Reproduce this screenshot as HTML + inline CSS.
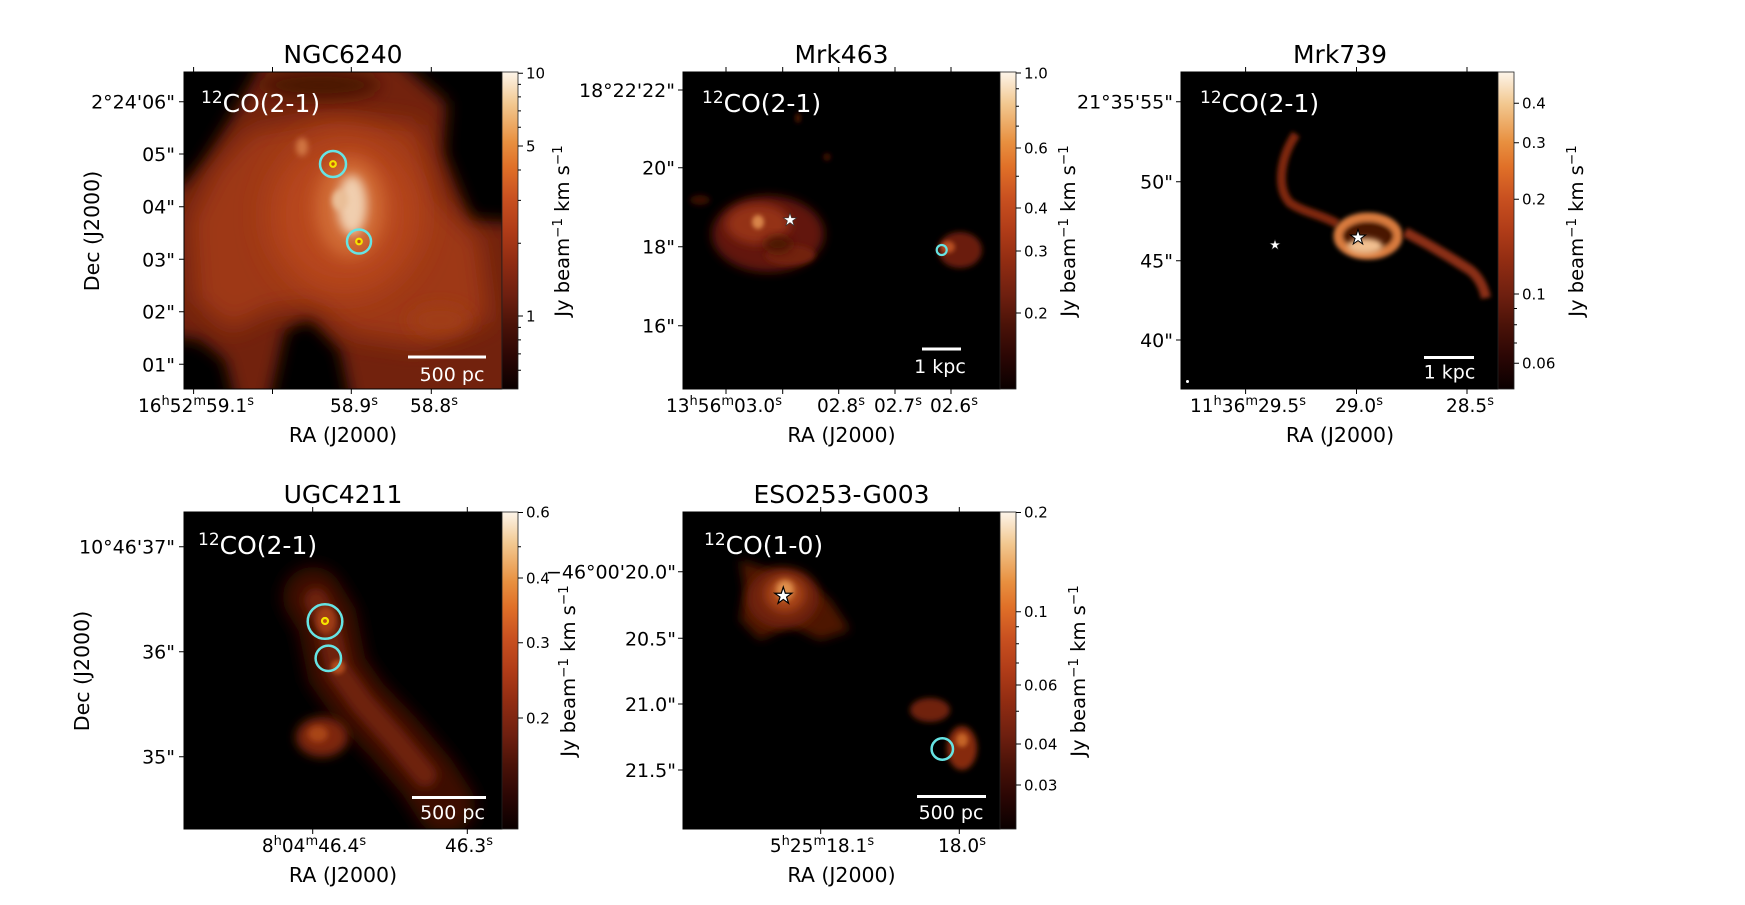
<!DOCTYPE html>
<html><head><meta charset="utf-8"><style>
html,body{margin:0;padding:0;background:#fff;}
svg{display:block;}
text{font-family:"DejaVu Sans","Liberation Sans",sans-serif;}
</style></head><body>
<svg width="1745" height="905" viewBox="0 0 1745 905" xmlns="http://www.w3.org/2000/svg">
<defs>
<linearGradient id="cmap" x1="0" y1="0" x2="0" y2="1">
<stop offset="0" stop-color="#fdf5ea"/><stop offset="0.1" stop-color="#f2c890"/><stop offset="0.22" stop-color="#e89040"/><stop offset="0.3" stop-color="#e07028"/><stop offset="0.4" stop-color="#c85020"/><stop offset="0.5" stop-color="#b03c18"/><stop offset="0.6" stop-color="#902c12"/><stop offset="0.7" stop-color="#702010"/><stop offset="0.8" stop-color="#4a1208"/><stop offset="0.9" stop-color="#2a0604"/><stop offset="1" stop-color="#0a0000"/>
</linearGradient>
<filter id="b2" x="-50%" y="-50%" width="200%" height="200%"><feGaussianBlur stdDeviation="2"/></filter>
<filter id="b3" x="-50%" y="-50%" width="200%" height="200%"><feGaussianBlur stdDeviation="3"/></filter>
<filter id="b5" x="-50%" y="-50%" width="200%" height="200%"><feGaussianBlur stdDeviation="5"/></filter>
<filter id="b8" x="-50%" y="-50%" width="200%" height="200%"><feGaussianBlur stdDeviation="8"/></filter>
<filter id="b12" x="-50%" y="-50%" width="200%" height="200%"><feGaussianBlur stdDeviation="12"/></filter>
<filter id="b16" x="-50%" y="-50%" width="200%" height="200%"><feGaussianBlur stdDeviation="16"/></filter>
<clipPath id="c1"><rect x="184" y="72" width="318" height="317"/></clipPath>
<clipPath id="c2"><rect x="683" y="72" width="317" height="317"/></clipPath>
<clipPath id="c3"><rect x="1181" y="72" width="317" height="317"/></clipPath>
<clipPath id="c4"><rect x="184" y="512" width="318" height="317"/></clipPath>
<clipPath id="c5"><rect x="683" y="512" width="317" height="317"/></clipPath>
</defs>

<!-- ================= PANEL 1 NGC6240 ================= -->
<g clip-path="url(#c1)">
<rect x="184" y="72" width="318" height="317" fill="#000"/>
<path d="M262,45L380,45L420,80L447,103L443,153L457,187L470,220L540,224L540,420L355,420L340,350L310,318L285,330L265,420L240,420L225,360L200,340L160,335L160,190L184,185L205,160L230,120L258,72Z" fill="#72200c" filter="url(#b8)"/>
<path d="M250,130L330,115L420,125L440,200L480,240L490,320L420,345L350,335L315,305L270,310L230,330L195,300L190,220L215,170Z" fill="#9e3814" filter="url(#b12)"/>
<ellipse cx="345" cy="215" rx="75" ry="80" fill="#b8461a" filter="url(#b16)"/>
<ellipse cx="350" cy="208" rx="35" ry="50" fill="#d06a34" filter="url(#b8)"/>
<ellipse cx="352" cy="205" rx="15" ry="30" fill="#f0ceae" filter="url(#b5)"/>
<ellipse cx="340" cy="200" rx="8" ry="10" fill="#eabf98" filter="url(#b3)"/>
<ellipse cx="302" cy="147" rx="6" ry="9" fill="#d07442" filter="url(#b3)"/>
<ellipse cx="440" cy="320" rx="30" ry="15" fill="#a03c16" filter="url(#b8)"/>
<ellipse cx="320" cy="85" rx="60" ry="14" fill="#4a1206" filter="url(#b8)"/>
</g>
<rect x="184" y="72" width="318" height="317" fill="none" stroke="#000" stroke-width="1"/>
<circle cx="333" cy="164" r="13" fill="none" stroke="#66e4e4" stroke-width="2.5"/>
<circle cx="333" cy="164" r="2.8" fill="#c05010" stroke="#f5e400" stroke-width="2.2"/>
<circle cx="359" cy="241.5" r="12" fill="none" stroke="#66e4e4" stroke-width="2.5"/>
<circle cx="359" cy="241.5" r="2.8" fill="#c05010" stroke="#f5e400" stroke-width="2.2"/>
<rect x="408" y="355.5" width="78" height="3" fill="#fff"/>
<text x="452" y="381" font-size="19" fill="#fff" text-anchor="middle">500 pc</text>
<text x="201" y="112" font-size="25" fill="#fff"><tspan font-size="17" dy="-9">12</tspan><tspan dy="9">CO(2-1)</tspan></text>
<text x="343" y="63" font-size="25" text-anchor="middle">NGC6240</text>
<path d="M193.6,72v-5M272.5,72v-5M351.3,72v-5M431.3,72v-5M193.6,389v5M272.5,389v5M351.3,389v5M431.3,389v5M184,101.7h-5M184,154h-5M184,206.7h-5M184,259.3h-5M184,311.7h-5M184,364.3h-5" stroke="#000" stroke-width="1"/>
<g font-size="19" text-anchor="end">
<text x="175" y="108.7">2°24'06"</text><text x="175" y="161">05"</text><text x="175" y="213.7">04"</text><text x="175" y="266.3">03"</text><text x="175" y="318.7">02"</text><text x="175" y="371.3">01"</text>
</g>
<g font-size="18.5" text-anchor="middle">
<text x="196" y="412">16<tspan font-size="13" dy="-7">h</tspan><tspan dy="7">52</tspan><tspan font-size="13" dy="-7">m</tspan><tspan dy="7">59.1</tspan><tspan font-size="13" dy="-7">s</tspan></text>
<text x="354" y="412">58.9<tspan font-size="13" dy="-7">s</tspan></text>
<text x="434" y="412">58.8<tspan font-size="13" dy="-7">s</tspan></text>
</g>
<text x="343" y="442" font-size="20.5" text-anchor="middle">RA (J2000)</text>
<text transform="translate(99,231) rotate(-90)" font-size="20.5" text-anchor="middle">Dec (J2000)</text>
<rect x="502" y="72" width="16" height="317" fill="url(#cmap)" stroke="#222" stroke-width="0.8"/>
<path d="M518,73.3h5M518,146h5M518,316h5M518,84.4h3M518,96.9h3M518,110.9h3M518,127.2h3M518,170h3M518,200.4h3M518,243.2h3M518,327.4h3M518,339.9h3M518,353.9h3M518,370.2h3" stroke="#000" stroke-width="1"/>
<g font-size="15"><text x="526" y="78.5">10</text><text x="526" y="151.3">5</text><text x="526" y="321.3">1</text></g>
<text transform="translate(569,231) rotate(-90)" font-size="19.5" text-anchor="middle">Jy beam<tspan font-size="13.5" dy="-7">−1</tspan><tspan dy="7"> km s</tspan><tspan font-size="13.5" dy="-7">−1</tspan></text>

<!-- ================= PANEL 2 Mrk463 ================= -->
<g clip-path="url(#c2)">
<rect x="683" y="72" width="317" height="317" fill="#000"/>
<ellipse cx="768" cy="234" rx="56" ry="38" fill="#62180a" filter="url(#b5)"/>
<ellipse cx="758" cy="224" rx="32" ry="20" fill="#943214" filter="url(#b5)"/>
<ellipse cx="790" cy="255" rx="25" ry="10" fill="#72220c" filter="url(#b3)"/>
<ellipse cx="778" cy="244" rx="14" ry="8" fill="#4a1206" filter="url(#b5)"/>
<ellipse cx="758" cy="222" rx="6" ry="7" fill="#d8844a" filter="url(#b2)"/>
<ellipse cx="700" cy="200" rx="10" ry="5" fill="#3a0c04" filter="url(#b3)"/>
<ellipse cx="960" cy="250" rx="22" ry="18" fill="#6a1e0c" filter="url(#b3)"/>
<ellipse cx="948" cy="247" rx="7" ry="6" fill="#b85020" filter="url(#b2)"/>
<ellipse cx="798" cy="118" rx="3" ry="5" fill="#4a1206" filter="url(#b2)"/>
<ellipse cx="827" cy="157" rx="4" ry="4" fill="#3a0c04" filter="url(#b2)"/>
</g>
<rect x="683" y="72" width="317" height="317" fill="none" stroke="#000" stroke-width="1"/>
<polygon points="790,213 791.57,217.84 796.66,217.84 792.54,220.83 794.12,225.66 790,222.67 785.88,225.66 787.46,220.83 783.34,217.84 788.43,217.84" fill="#fff" stroke="#333" stroke-width="0.6"/>
<circle cx="941.7" cy="250" r="5" fill="none" stroke="#66e4e4" stroke-width="2.2"/>
<rect x="922" y="347.5" width="39" height="3" fill="#fff"/>
<text x="940" y="373" font-size="19" fill="#fff" text-anchor="middle">1 kpc</text>
<text x="702" y="112" font-size="25" fill="#fff"><tspan font-size="17" dy="-9">12</tspan><tspan dy="9">CO(2-1)</tspan></text>
<text x="841.5" y="63" font-size="25" text-anchor="middle">Mrk463</text>
<path d="M726,72v-5M782.7,72v-5M838.7,72v-5M895,72v-5M951,72v-5M726,389v5M782.7,389v5M838.7,389v5M895,389v5M951,389v5M683,90h-5M683,167.7h-5M683,246.7h-5M683,325.7h-5" stroke="#000" stroke-width="1"/>
<g font-size="19" text-anchor="end">
<text x="675" y="97">18°22'22"</text><text x="675" y="174.7">20"</text><text x="675" y="253.7">18"</text><text x="675" y="332.7">16"</text>
</g>
<g font-size="18.5" text-anchor="middle">
<text x="724" y="412">13<tspan font-size="13" dy="-7">h</tspan><tspan dy="7">56</tspan><tspan font-size="13" dy="-7">m</tspan><tspan dy="7">03.0</tspan><tspan font-size="13" dy="-7">s</tspan></text>
<text x="841" y="412">02.8<tspan font-size="13" dy="-7">s</tspan></text>
<text x="898" y="412">02.7<tspan font-size="13" dy="-7">s</tspan></text>
<text x="954" y="412">02.6<tspan font-size="13" dy="-7">s</tspan></text>
</g>
<text x="841.5" y="442" font-size="20.5" text-anchor="middle">RA (J2000)</text>
<rect x="1000" y="72" width="16" height="317" fill="url(#cmap)" stroke="#222" stroke-width="0.8"/>
<path d="M1016,73h5M1016,148h5M1016,208h5M1016,251h5M1016,313h5M1016,88.7h3M1016,106.2h3M1016,126.1h3M1016,176.3h3" stroke="#000" stroke-width="1"/>
<g font-size="15"><text x="1024" y="78.3">1.0</text><text x="1024" y="153.3">0.6</text><text x="1024" y="213.3">0.4</text><text x="1024" y="256.3">0.3</text><text x="1024" y="318.3">0.2</text></g>
<text transform="translate(1075,231) rotate(-90)" font-size="19.5" text-anchor="middle">Jy beam<tspan font-size="13.5" dy="-7">−1</tspan><tspan dy="7"> km s</tspan><tspan font-size="13.5" dy="-7">−1</tspan></text>

<!-- ================= PANEL 3 Mrk739 ================= -->
<g clip-path="url(#c3)">
<rect x="1181" y="72" width="317" height="317" fill="#000"/>
<path d="M1296,134C1280,158 1276,188 1290,203C1305,213 1320,214 1338,224" fill="none" stroke="#7e2810" stroke-width="9" filter="url(#b2)"/>
<ellipse cx="1368" cy="236" rx="30" ry="19" fill="#4a1206" stroke="#d87a3c" stroke-width="9" filter="url(#b2)"/>
<ellipse cx="1365" cy="246" rx="18" ry="8" fill="#f2c090" filter="url(#b3)"/>
<path d="M1405,232C1428,244 1450,257 1470,270C1480,278 1484,288 1486,298" fill="none" stroke="#8a2e12" stroke-width="10" filter="url(#b2)"/>
</g>
<rect x="1181" y="72" width="317" height="317" fill="none" stroke="#000" stroke-width="1"/>
<polygon points="1275,239.5 1276.23,243.3 1280.23,243.3 1277,245.65 1278.23,249.45 1275,247.1 1271.77,249.45 1273,245.65 1269.77,243.3 1273.77,243.3" fill="#fff" stroke="#333" stroke-width="0.5"/>
<polygon points="1358,229.5 1359.8,235.03 1365.61,235.03 1360.9,238.44 1362.7,243.97 1358,240.56 1353.3,243.97 1355.1,238.44 1350.39,235.03 1356.2,235.03" fill="#fff" stroke="#000" stroke-width="1"/>
<circle cx="1187.5" cy="381.5" r="1.5" fill="#fff"/>
<rect x="1424" y="356" width="50" height="3" fill="#fff"/>
<text x="1449.5" y="378.5" font-size="19" fill="#fff" text-anchor="middle">1 kpc</text>
<text x="1200" y="112" font-size="25" fill="#fff"><tspan font-size="17" dy="-9">12</tspan><tspan dy="9">CO(2-1)</tspan></text>
<text x="1340" y="63" font-size="25" text-anchor="middle">Mrk739</text>
<path d="M1245.6,72v-5M1356.5,72v-5M1467,72v-5M1245.6,389v5M1356.5,389v5M1467,389v5M1181,101.7h-5M1181,181.7h-5M1181,260.7h-5M1181,340h-5" stroke="#000" stroke-width="1"/>
<g font-size="19" text-anchor="end">
<text x="1173" y="108.7">21°35'55"</text><text x="1173" y="188.7">50"</text><text x="1173" y="267.7">45"</text><text x="1173" y="347">40"</text>
</g>
<g font-size="18.5" text-anchor="middle">
<text x="1248" y="412">11<tspan font-size="13" dy="-7">h</tspan><tspan dy="7">36</tspan><tspan font-size="13" dy="-7">m</tspan><tspan dy="7">29.5</tspan><tspan font-size="13" dy="-7">s</tspan></text>
<text x="1359" y="412">29.0<tspan font-size="13" dy="-7">s</tspan></text>
<text x="1470" y="412">28.5<tspan font-size="13" dy="-7">s</tspan></text>
</g>
<text x="1340" y="442" font-size="20.5" text-anchor="middle">RA (J2000)</text>
<rect x="1498" y="72" width="16" height="317" fill="url(#cmap)" stroke="#222" stroke-width="0.8"/>
<path d="M1514,103.3h5M1514,142.7h5M1514,199.3h5M1514,294h5M1514,363.3h5M1514,308.5h3M1514,324.7h3M1514,343h3" stroke="#000" stroke-width="1"/>
<g font-size="15"><text x="1522" y="108.6">0.4</text><text x="1522" y="148">0.3</text><text x="1522" y="204.6">0.2</text><text x="1522" y="299.3">0.1</text><text x="1522" y="368.6">0.06</text></g>
<text transform="translate(1583,231) rotate(-90)" font-size="19.5" text-anchor="middle">Jy beam<tspan font-size="13.5" dy="-7">−1</tspan><tspan dy="7"> km s</tspan><tspan font-size="13.5" dy="-7">−1</tspan></text>

<!-- ================= PANEL 4 UGC4211 ================= -->
<g clip-path="url(#c4)">
<rect x="184" y="512" width="318" height="317" fill="#000"/>
<path d="M313,597L327,620L337,670L360,703L393,737L427,777L445,805" fill="none" stroke="#3e0e04" stroke-width="60" stroke-linecap="round" filter="url(#b8)"/>
<path d="M316,600L328,625L338,670L362,703L393,737L425,775" fill="none" stroke="#6e200c" stroke-width="24" stroke-linecap="round" filter="url(#b5)"/>
<ellipse cx="322" cy="737" rx="26" ry="20" fill="#7e2810" filter="url(#b5)"/>
<ellipse cx="318" cy="734" rx="10" ry="8" fill="#a84418" filter="url(#b3)"/>
<ellipse cx="326" cy="620" rx="10" ry="14" fill="#a03c16" filter="url(#b3)"/>
<ellipse cx="338" cy="667" rx="7" ry="7" fill="#b04c1e" filter="url(#b2)"/>
</g>
<rect x="184" y="512" width="318" height="317" fill="none" stroke="#000" stroke-width="1"/>
<circle cx="325" cy="621.5" r="17.3" fill="none" stroke="#66e4e4" stroke-width="2.5"/>
<circle cx="325" cy="621" r="3" fill="#c05010" stroke="#f5e400" stroke-width="2.2"/>
<circle cx="328.3" cy="658.3" r="12.7" fill="none" stroke="#66e4e4" stroke-width="2.5"/>
<rect x="412" y="796" width="74" height="3" fill="#fff"/>
<text x="452.5" y="819" font-size="19" fill="#fff" text-anchor="middle">500 pc</text>
<text x="198" y="554" font-size="25" fill="#fff"><tspan font-size="17" dy="-9">12</tspan><tspan dy="9">CO(2-1)</tspan></text>
<text x="343" y="503" font-size="25" text-anchor="middle">UGC4211</text>
<path d="M312.7,512v-5M467.3,512v-5M312.7,829v5M467.3,829v5M184,546.7h-5M184,651.7h-5M184,756.7h-5" stroke="#000" stroke-width="1"/>
<g font-size="19" text-anchor="end">
<text x="175" y="553.7">10°46'37"</text><text x="175" y="658.7">36"</text><text x="175" y="763.7">35"</text>
</g>
<g font-size="18.5" text-anchor="middle">
<text x="314" y="852">8<tspan font-size="13" dy="-7">h</tspan><tspan dy="7">04</tspan><tspan font-size="13" dy="-7">m</tspan><tspan dy="7">46.4</tspan><tspan font-size="13" dy="-7">s</tspan></text>
<text x="469" y="852">46.3<tspan font-size="13" dy="-7">s</tspan></text>
</g>
<text x="343" y="882" font-size="20.5" text-anchor="middle">RA (J2000)</text>
<text transform="translate(89,671) rotate(-90)" font-size="20.5" text-anchor="middle">Dec (J2000)</text>
<rect x="502" y="512" width="16" height="317" fill="url(#cmap)" stroke="#222" stroke-width="0.8"/>
<path d="M518,512.5h5M518,578h5M518,642.7h5M518,718h5M518,546.7h3" stroke="#000" stroke-width="1"/>
<g font-size="15"><text x="526" y="517.5">0.6</text><text x="526" y="583.3">0.4</text><text x="526" y="648">0.3</text><text x="526" y="723.3">0.2</text></g>
<text transform="translate(575,671) rotate(-90)" font-size="19.5" text-anchor="middle">Jy beam<tspan font-size="13.5" dy="-7">−1</tspan><tspan dy="7"> km s</tspan><tspan font-size="13.5" dy="-7">−1</tspan></text>

<!-- ================= PANEL 5 ESO253-G003 ================= -->
<g clip-path="url(#c5)">
<rect x="683" y="512" width="317" height="317" fill="#000"/>
<path d="M740,560L770,570L800,575L830,600L850,630L820,640L790,625L760,640L740,620L745,590Z" fill="#4e1406" filter="url(#b5)"/>
<ellipse cx="783" cy="598" rx="36" ry="30" fill="#70200c" filter="url(#b5)"/>
<ellipse cx="785" cy="594" rx="20" ry="18" fill="#a84418" filter="url(#b5)"/>
<ellipse cx="785" cy="590" rx="9" ry="10" fill="#e0904e" filter="url(#b3)"/>
<ellipse cx="930" cy="710" rx="20" ry="12" fill="#70200c" filter="url(#b3)"/>
<ellipse cx="962" cy="748" rx="15" ry="22" fill="#862c10" filter="url(#b3)"/>
<ellipse cx="962" cy="740" rx="6" ry="7" fill="#c46428" filter="url(#b2)"/>
</g>
<rect x="683" y="512" width="317" height="317" fill="none" stroke="#000" stroke-width="1"/>
<polygon points="783.3,587 785.32,593.22 791.86,593.22 786.57,597.06 788.59,603.28 783.3,599.44 778.01,603.28 780.03,597.06 774.74,593.22 781.28,593.22" fill="#fff" stroke="#000" stroke-width="1.2"/>
<circle cx="942.3" cy="749" r="10.7" fill="none" stroke="#66e4e4" stroke-width="2.5"/>
<rect x="917" y="795" width="69" height="3" fill="#fff"/>
<text x="951" y="819" font-size="19" fill="#fff" text-anchor="middle">500 pc</text>
<text x="704" y="554" font-size="25" fill="#fff"><tspan font-size="17" dy="-9">12</tspan><tspan dy="9">CO(1-0)</tspan></text>
<text x="841.5" y="503" font-size="25" text-anchor="middle">ESO253-G003</text>
<path d="M820.7,512v-5M959.3,512v-5M820.7,829v5M959.3,829v5M683,571.7h-5M683,638.3h-5M683,704h-5M683,770h-5" stroke="#000" stroke-width="1"/>
<g font-size="19" text-anchor="end">
<text x="676" y="578.7">−46°00'20.0"</text><text x="676" y="645.3">20.5"</text><text x="676" y="711">21.0"</text><text x="676" y="777">21.5"</text>
</g>
<g font-size="18.5" text-anchor="middle">
<text x="822" y="852">5<tspan font-size="13" dy="-7">h</tspan><tspan dy="7">25</tspan><tspan font-size="13" dy="-7">m</tspan><tspan dy="7">18.1</tspan><tspan font-size="13" dy="-7">s</tspan></text>
<text x="962" y="852">18.0<tspan font-size="13" dy="-7">s</tspan></text>
</g>
<text x="841.5" y="882" font-size="20.5" text-anchor="middle">RA (J2000)</text>
<rect x="1000" y="512" width="16" height="317" fill="url(#cmap)" stroke="#222" stroke-width="0.8"/>
<path d="M1016,512.5h5M1016,611.7h5M1016,685h5M1016,744h5M1016,785h5M1016,626.8h3M1016,643.8h3M1016,663h3M1016,711.3h3" stroke="#000" stroke-width="1"/>
<g font-size="15"><text x="1024" y="517.5">0.2</text><text x="1024" y="617">0.1</text><text x="1024" y="690.3">0.06</text><text x="1024" y="749.3">0.04</text><text x="1024" y="790.3">0.03</text></g>
<text transform="translate(1085,671) rotate(-90)" font-size="19.5" text-anchor="middle">Jy beam<tspan font-size="13.5" dy="-7">−1</tspan><tspan dy="7"> km s</tspan><tspan font-size="13.5" dy="-7">−1</tspan></text>
</svg>
</body></html>
